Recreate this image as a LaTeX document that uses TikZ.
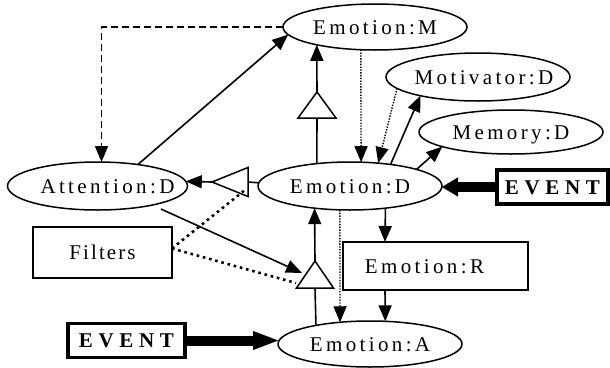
\documentclass[tikz,border=0pt]{standalone}
\usepackage{fontspec}
\setmainfont{Liberation Serif}
\newfontfamily\labA[LetterSpace=16]{Liberation Serif}
\newfontfamily\labF[LetterSpace=10]{Liberation Serif}
\newfontfamily\labE[LetterSpace=27]{Liberation Serif}
\usetikzlibrary{shapes.geometric,arrows.meta}
\begin{document}
\begin{tikzpicture}[x=1pt,y=-1pt,
  every node/.style={inner sep=0pt, outer sep=0pt, text height=14pt, text depth=0pt},
  ell/.style={draw, ellipse, line width=1.5pt, minimum width=184pt, minimum height=#1,
    font=\labA\fontsize{21}{21}\selectfont},
  ell/.default=48pt,
  boxnode/.style={draw, rectangle, line width=1.5pt},
  evnode/.style={draw, rectangle, line width=3.2pt, minimum height=34pt,
    font=\labE\bfseries\fontsize{21}{21}\selectfont},
  arr/.style={-{Triangle[length=16pt,width=13pt]}},
  solidline/.style={line width=1.6pt},
  con/.style={solidline, arr},
  dotfine/.style={line width=1.4pt, dash pattern=on 1.4pt off 1.4pt},
  dotcoarse/.style={line width=2.6pt, dash pattern=on 2.6pt off 3.8pt},
  dsh/.style={line width=1.6pt, dash pattern=on 7pt off 4pt},
  bigarrow/.style={line width=10pt, -{Triangle[length=#1,width=19pt,line width=0.1pt]}},
  gate/.style={draw, fill=white, line width=1.5pt, line join=miter}
]
\useasboundingbox (0,0) rectangle (610,367);
\fill[white] (0,0) rectangle (610,367);

% nodes
\node[ell=46pt] (emoM) at (375,27) {\makebox[0pt]{Emotion:M}};
\node[ell] (motD) at (478,77) {\makebox[0pt]{\hspace{12pt}Motivator:D}};
\node[ell=44pt] (memD) at (511,132) {\makebox[0pt]{Memory:D}};
\node[ell] (emoD) at (350,186) {\makebox[0pt]{Emotion:D}};
\node[ell, minimum width=180pt] (attD) at (97.5,186) {\makebox[0pt]{\hspace{20pt}Attention:D}};
\node[ell=46pt] (emoA) at (370,344) {\makebox[0pt]{Emotion:A}};
\node[boxnode, minimum width=139pt, minimum height=51pt, font=\labF\fontsize{21}{21}\selectfont]
  (filt) at (102.5,252.5) {\makebox[0pt]{Filters}};
\node[boxnode, minimum width=185pt, minimum height=48pt, font=\labA\fontsize{21}{21}\selectfont]
  (emoR) at (435.5,266) {\makebox[0pt]{Emotion:R\hspace{22pt}}};
\node[evnode, minimum width=117pt] (ev1) at (126.5,340.5) {\makebox[0pt]{EVENT}};
\node[evnode, minimum width=111pt] (ev2) at (552.5,187) {\makebox[0pt]{EVENT}};

% gate coordinates
\coordinate (triUa) at (317,92);
\coordinate (triUb) at (317,118);
\coordinate (triLa) at (212,182);
\coordinate (triLb) at (248,182);
\coordinate (triBa) at (315,261);
\coordinate (triBb) at (315,288);

% connectors through gates
\draw[solidline] (emoD.146) -- (triUb);
\draw[con] (triUa) -- (emoM.197);
\draw[solidline] (emoD.178) -- (triLb);
\draw[con] (triLa) -- (attD.3);
\draw[solidline] (emoA.161) -- (triBb);
\draw[con] (triBa) -- (emoD.212);

% gates
\draw[gate] ([xshift=-19pt]triUb) -- (triUa) -- ([xshift=19pt]triUb) -- cycle;
\draw[gate] ([yshift=14.5pt]triLb) -- (triLa) -- ([yshift=-14.5pt]triLb) -- cycle;
\draw[gate] ([xshift=-18.5pt]triBb) -- (triBa) -- ([xshift=18.5pt]triBb) -- cycle;

% other connectors
\draw[dsh, arr] (emoM.west) -| ([xshift=4pt]attD.north);
\draw[con] (attD.28) -- (emoM.185);
\draw[dotfine, arr] (emoM.238) -- (emoD.65);
\draw[dotfine, arr] (motD.188) -- (emoD.39);
\draw[con] (emoD.28) -- (motD.198);
\draw[con] (emoD.14) -- (memD.192);
\draw[con] (emoD.328) -- ([xshift=-50.5pt]emoR.north);
\draw[con] ([xshift=-50.5pt]emoR.south) -- (emoA.56);
\draw[dotfine, arr] (emoD.247) -- (emoA.144);
\draw[con] ([yshift=-6pt]attD.345) -- ([shift={(-13pt,15pt)}]triBb);
\draw[dotcoarse] ([yshift=4pt]filt.east) -- ([shift={(-3pt,-8pt)}]triLb);
\draw[dotcoarse] ([yshift=4pt]filt.east) -- ([shift={(-19pt,5pt)}]triBb);

% event arrows
\draw[bigarrow=16pt] (ev2.west) -- (ev2.west -| emoD.east);
\draw[bigarrow=25pt] (ev1.east) -- (ev1.east -| emoA.west);
\end{tikzpicture}
\end{document}
